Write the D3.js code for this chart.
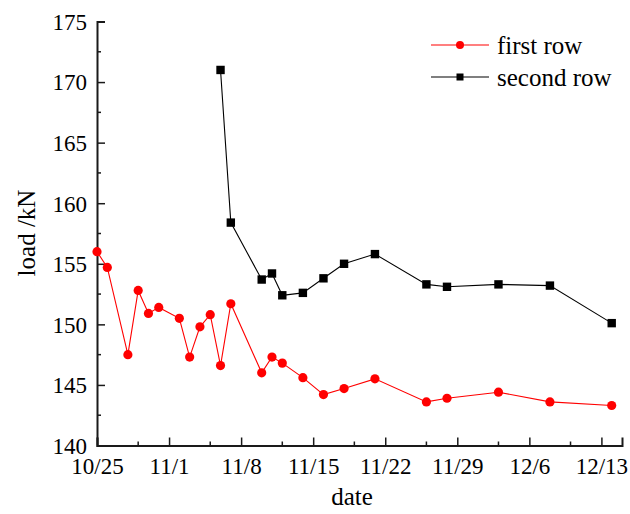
<!DOCTYPE html>
<html>
<head>
<meta charset="utf-8">
<script src="https://cdn.jsdelivr.net/npm/d3@7/dist/d3.min.js"></script>
<style>
  html, body { margin: 0; padding: 0; background: #fff; }
  svg { display: block; }
  svg text { font-family: 'Liberation Serif', 'Times New Roman', serif !important; fill: #000; }
</style>
</head>
<body>
<svg id="chart" width="630" height="514"></svg>
<script>
// Measurement dates (month/day) and loads in kN
const firstDates = ["10/25","10/26","10/28","10/29","10/30","10/31","11/2","11/3","11/4","11/5","11/6","11/7",
                    "11/10","11/11","11/12","11/14","11/16","11/18","11/21","11/26","11/28","12/3","12/8","12/14"];
const firstLoads = [156.0,154.7,147.5,152.8,150.9,151.4,150.5,147.3,149.8,150.8,146.6,151.7,
                    146.0,147.3,146.8,145.6,144.2,144.7,145.5,143.6,143.9,144.4,143.6,143.3];

const secondDates = ["11/6","11/7","11/10","11/11","11/12","11/14","11/16","11/18","11/21","11/26","11/28","12/3","12/8","12/14"];
const secondLoads = [171.0,158.4,153.7,154.2,152.4,152.6,153.8,155.0,155.8,153.3,153.1,153.3,153.2,150.1];

const xTickLabels = ["10/25","11/1","11/8","11/15","11/22","11/29","12/6","12/13"];
const yTicks = [140,145,150,155,160,165,170,175];
const seriesNames = ["first row","second row"];
const seriesColors = ["#ff0000","#000000"];

const YEAR = 2019;
const parseMD = s => { const [m, d] = s.split("/").map(Number); return new Date(Date.UTC(YEAR, m - 1, d)); };

const serif = "'Liberation Serif', 'Times New Roman', serif";
const svg = d3.select("#chart");
const plotLeft = 97, plotRight = 622, plotTop = 21.5, plotBottom = 445.5;

const x = d3.scaleUtc().domain([parseMD("10/25"), parseMD("12/15")]).range([plotLeft, plotRight]);
const y = d3.scaleLinear().domain([140, 175]).range([plotBottom, plotTop]);

const axisColor = "#1a1a1a";

// y axis: majors every 5, minors halfway, ticks pointing inward
const yAxis = d3.axisLeft(y).tickValues(yTicks).tickSize(-8).tickPadding(0).tickFormat(d3.format("d"));
const gy = svg.append("g").attr("transform", `translate(${plotLeft},0)`).call(yAxis)
  .attr("font-family", serif).attr("font-size", 23);
gy.select(".domain").attr("stroke", axisColor).attr("stroke-width", 2);
gy.selectAll(".tick line").attr("stroke", axisColor).attr("stroke-width", 1.5);
gy.selectAll(".tick text").attr("x", -10).attr("dy", "0.34em").attr("fill", "#000");
const yMinor = d3.range(142.5, 175, 5);
svg.append("g").selectAll("line").data(yMinor).join("line")
  .attr("x1", plotLeft).attr("x2", plotLeft + 4)
  .attr("y1", d => y(d)).attr("y2", d => y(d))
  .attr("stroke", axisColor).attr("stroke-width", 1.5);

// x axis: weekly majors, minor ticks four days after each major
const xMajors = xTickLabels.map(parseMD);
const xAxis = d3.axisBottom(x).tickValues(xMajors).tickSize(-8).tickPadding(0)
  .tickFormat(d => `${d.getUTCMonth() + 1}/${d.getUTCDate()}`);
const gx = svg.append("g").attr("transform", `translate(0,${plotBottom})`).call(xAxis)
  .attr("font-family", serif).attr("font-size", 23);
gx.select(".domain").attr("stroke", axisColor).attr("stroke-width", 2);
gx.selectAll(".tick line").attr("stroke", axisColor).attr("stroke-width", 1.5);
gx.selectAll(".tick text").attr("y", 12).attr("dy", "0.71em").attr("fill", "#000");
const xMinor = xMajors.map(d => d3.utcDay.offset(d, 4)).filter(d => d <= x.domain()[1]);
svg.append("g").selectAll("line").data(xMinor).join("line")
  .attr("x1", d => x(d)).attr("x2", d => x(d))
  .attr("y1", plotBottom).attr("y2", plotBottom - 4)
  .attr("stroke", axisColor).attr("stroke-width", 1.5);

// axis titles
svg.append("text").attr("x", 352).attr("y", 505).attr("text-anchor", "middle")
  .attr("font-size", 25).text("date");
svg.append("text").attr("transform", "translate(35,233) rotate(-90)").attr("text-anchor", "middle")
  .attr("font-size", 25).text("load /kN");

// series
const line = d3.line().x(d => x(d.date)).y(d => y(d.value));
const first = firstDates.map((d, i) => ({ date: parseMD(d), value: firstLoads[i] }));
const second = secondDates.map((d, i) => ({ date: parseMD(d), value: secondLoads[i] }));

svg.append("path").datum(first).attr("d", line).attr("fill", "none").attr("stroke", seriesColors[0]).attr("stroke-width", 1.1);
svg.append("path").datum(second).attr("d", line).attr("fill", "none").attr("stroke", seriesColors[1]).attr("stroke-width", 1.1);

svg.append("g").selectAll("circle").data(first).join("circle")
  .attr("cx", d => x(d.date)).attr("cy", d => y(d.value)).attr("r", 4.6)
  .attr("fill", seriesColors[0]);
const sq = 8.4;
svg.append("g").selectAll("rect").data(second).join("rect")
  .attr("x", d => x(d.date) - sq / 2).attr("y", d => y(d.value) - sq / 2)
  .attr("width", sq).attr("height", sq).attr("fill", seriesColors[1]);

// legend
const legend = svg.append("g");
const legendRows = [45, 77];
seriesNames.forEach((name, i) => {
  const ly = legendRows[i];
  legend.append("line").attr("x1", 431).attr("x2", 489).attr("y1", ly).attr("y2", ly)
    .attr("stroke", seriesColors[i]).attr("stroke-width", 1.1);
  if (i === 0) {
    legend.append("circle").attr("cx", 460).attr("cy", ly).attr("r", 4).attr("fill", seriesColors[i]);
  } else {
    legend.append("rect").attr("x", 456.5).attr("y", ly - 3.5).attr("width", 7).attr("height", 7).attr("fill", seriesColors[i]);
  }
  legend.append("text").attr("x", 497).attr("y", ly + 8.5).attr("font-size", 25).text(name);
});
</script>
</body>
</html>
